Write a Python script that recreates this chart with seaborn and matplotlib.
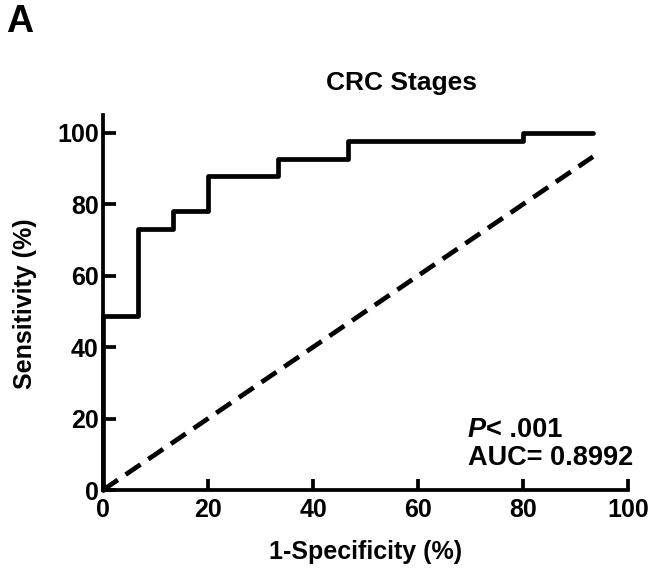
import matplotlib
matplotlib.use("Agg")
import matplotlib.pyplot as plt
import seaborn as sns
import pandas as pd

# ROC data (percent)
fpr = [0, 0, 6.67, 13.33, 20.0, 33.33, 46.67, 80.0, 93.33]
tpr = [0, 48.8, 73.2, 78.0, 87.8, 92.7, 97.6, 100.0, 100.0]
ref_x = [0, 93.33]
ref_y = [0, 93.33]
x_ticks = [0, 20, 40, 60, 80, 100]
y_ticks = [0, 20, 40, 60, 80, 100]
title = "CRC Stages"
panel = "A"
xlabel = "1-Specificity (%)"
ylabel = "Sensitivity (%)"
p_text = "< .001"
auc_text = "AUC= 0.8992"

sns.set_style("ticks")
plt.rcParams['font.family'] = ['Liberation Sans', 'DejaVu Sans']
plt.rcParams['font.weight'] = 'bold'
plt.rcParams['text.color'] = 'black'
plt.rcParams['axes.labelcolor'] = 'black'
plt.rcParams['xtick.color'] = 'black'
plt.rcParams['ytick.color'] = 'black'

fig = plt.figure(figsize=(6.57, 5.75), dpi=100)
ax = fig.add_axes([103/657, 1-490/575, 525/657, 375/575])

roc = pd.DataFrame({"fpr": fpr, "tpr": tpr})
ref = pd.DataFrame({"x": ref_x, "y": ref_y})

sns.lineplot(data=roc, x="fpr", y="tpr", sort=False, estimator=None,
             drawstyle="steps-post", color="black", linewidth=3.4,
             ax=ax, clip_on=False, zorder=3)
sns.lineplot(data=ref, x="x", y="y", sort=False, estimator=None,
             color="black", linewidth=3.4, linestyle=(0, (3.8, 2.0)),
             ax=ax, clip_on=False, zorder=3)

ax.set_xlim(0, 100)
ax.set_ylim(0, 105)
ax.set_xticks(x_ticks)
ax.set_yticks(y_ticks)
ax.set_xticklabels([str(t) for t in x_ticks], fontsize=18, fontweight='bold', color='black')
ax.set_yticklabels([str(t) for t in y_ticks], fontsize=18, fontweight='bold', color='black')
sns.despine(ax=ax)
for s in ["left", "bottom"]:
    ax.spines[s].set_linewidth(2.7)
    ax.spines[s].set_color("black")
ax.tick_params(axis='x', direction='in', length=8, width=2.7, pad=6, colors='black')
ax.tick_params(axis='y', direction='in', length=9, width=2.7, pad=3, colors='black')

ax.set_xlabel(xlabel, fontsize=18, fontweight='bold', va='center', color='black')
ax.xaxis.set_label_coords(0.5, -0.165)
ax.set_ylabel(ylabel, fontsize=18, fontweight='bold', va='center', ha='center', color='black')
ax.yaxis.set_label_coords(-0.149, 0.496)

fig.text(402/657, 1-83/575, title, fontsize=19, fontweight='bold',
         ha='center', va='center', color='black')
fig.text(6/657, 1-4/575, panel, fontsize=27, fontweight='bold',
         ha='left', va='top', color='black')

t1 = ax.text(69.5, 14.8, "P", fontsize=19.5, fontweight='bold',
             fontstyle='italic', ha='left', va='baseline', color='black')
ax.annotate(p_text, xy=(1, 0), xycoords=t1, fontsize=19.5,
            fontweight='bold', ha='left', va='bottom', color='black')
ax.text(69.5, 7.0, auc_text, fontsize=19.5, fontweight='bold',
        ha='left', va='baseline', color='black')

fig.savefig("out.png", dpi=100)
